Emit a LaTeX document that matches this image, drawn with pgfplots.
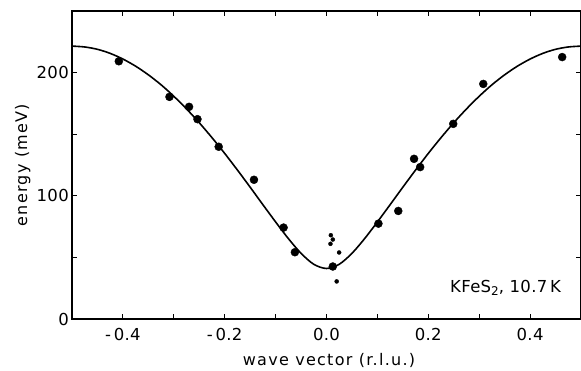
\documentclass[border=0pt]{standalone}
\usepackage{fontspec}
\setmainfont{DejaVu Sans}
\newfontfamily\lblfont[LetterSpace=8]{DejaVu Sans}
\newfontfamily\tickfont[LetterSpace=2]{DejaVu Sans}
\usepackage{pgfplots}
\pgfplotsset{compat=1.18}
\begin{document}
\begin{tikzpicture}
\begin{axis}[
  scale only axis, width=509pt, height=308pt,
  xmin=-0.5, xmax=0.5, ymin=0, ymax=250,
  axis line style={line width=1.6pt},
  every tick/.style={line width=1.1pt, black},
  tick align=inside, major tick length=5pt, minor tick length=5pt,
  xtick={-0.4,-0.2,0,0.2,0.4},
  xticklabels={-\,0.4,-\,0.2,0.0,0.2,0.4},
  minor xtick={-0.3,-0.1,0.1,0.3},
  ytick={0,100,200}, yticklabels={0,100,200},
  minor ytick={50,150},
  ticklabel style={font=\tickfont\fontsize{16.5}{18}\selectfont},
  xticklabel style={anchor=base, yshift=-21.5pt},
  yticklabel style={anchor=east, inner sep=0pt, xshift=-3pt},
  xlabel={wave vector (r.l.u.)},
  ylabel={energy (meV)},
  label style={font=\lblfont\fontsize{16}{18}\selectfont},
  xlabel style={at={(axis description cs:0.505,0)}, anchor=base, yshift=-46.5pt},
  ylabel style={at={(axis description cs:-0.097,0.5)}, anchor=center},
  clip=false,
]
\addplot[black, line width=1.6pt, smooth, no marks] coordinates {
(-0.5,221.5) (-0.475,220.8) (-0.45,218.9) (-0.425,215.6) (-0.4,211.0)
(-0.375,205.2) (-0.35,198.2) (-0.325,190.1) (-0.3,180.8) (-0.275,170.5)
(-0.25,159.3) (-0.225,147.2) (-0.2,134.4) (-0.175,120.9) (-0.15,107.0)
(-0.125,92.8) (-0.1,78.8) (-0.075,65.3) (-0.05,53.3) (-0.025,44.4)
(0,41.0)
(0.025,44.4) (0.05,53.3) (0.075,65.3) (0.1,78.8) (0.125,92.8)
(0.15,107.0) (0.175,120.9) (0.2,134.4) (0.225,147.2) (0.25,159.3)
(0.275,170.5) (0.3,180.8) (0.325,190.1) (0.35,198.2) (0.375,205.2)
(0.4,211.0) (0.425,215.6) (0.45,218.9) (0.475,220.8) (0.5,221.5)
};
\addplot[only marks, mark=*, mark size=4pt, black] coordinates {
(-0.408,209.2) (-0.3085,180.3) (-0.270,172.2) (-0.2535,162.2) (-0.2118,139.8)
(-0.1425,113.0) (-0.0843,74.2) (-0.0621,54.2) (0.0124,42.6) (0.102,77.4)
(0.141,87.7) (0.172,130) (0.184,123.3) (0.249,158.4) (0.308,190.8) (0.463,212.6)
};
\addplot[only marks, mark=*, mark size=2pt, black] coordinates {
(0.0085,68.0) (0.0124,64.5) (0.0078,61.0) (0.0248,54.0) (0.020,30.5)
};
\node[anchor=base east, font=\tickfont\fontsize{16.5}{18}\selectfont, inner sep=0pt] at (axis cs:0.461,21.9) {KFeS\raisebox{-0.35ex}{\fontsize{12}{12}\selectfont 2}, 10.7\,K};
\end{axis}
\pgfresetboundingbox
\path (-72pt,-52pt) rectangle (509pt,319pt);
\end{tikzpicture}
\end{document}
